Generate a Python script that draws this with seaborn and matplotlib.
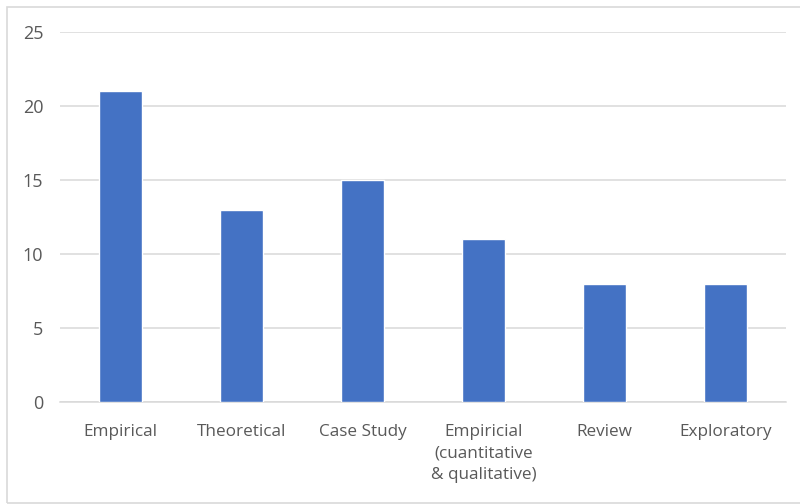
import matplotlib
matplotlib.use("Agg")
import matplotlib.pyplot as plt
import seaborn as sns
import pandas as pd
from matplotlib.patches import Rectangle

categories = ["Empirical", "Theoretical", "Case Study",
              "Empiricial\n(cuantitative\n& qualitative)", "Review", "Exploratory"]
counts = [21, 13, 15, 11, 8, 8]
y_ticks = [0, 5, 10, 15, 20, 25]

sns.set_theme(style="white")
plt.rcParams["font.family"] = ["Open Sans", "DejaVu Sans"]

df = pd.DataFrame({"category": categories, "count": counts})

fig = plt.figure(figsize=(8.0, 5.04), dpi=100)
ax = fig.add_axes([0.075, 0.2024, 0.9075, 0.7341])

sns.barplot(data=df, x="category", y="count", color="#4472C4",
            width=0.355, saturation=1, ax=ax, zorder=3)

ax.set_ylim(0, 25)
ax.set_yticks(y_ticks)
ax.set_xlim(-0.5, len(categories) - 0.5)
ax.set_xlabel("")
ax.set_ylabel("")
ax.yaxis.grid(True, color="#d9d9d9", linewidth=1.1, zorder=0)
ax.set_axisbelow(True)
for side in ["top", "right", "left"]:
    ax.spines[side].set_visible(False)
ax.spines["bottom"].set_color("#d9d9d9")
ax.spines["bottom"].set_linewidth(1.1)
ax.tick_params(axis="both", length=0, labelcolor="#595959")
ax.tick_params(axis="x", labelsize=12.3, pad=16)
ax.tick_params(axis="y", labelsize=13, pad=12)
for lbl in ax.get_xticklabels():
    lbl.set_linespacing(1.46)

# light chart-area frame
fig.patches.append(Rectangle((7 / 800, 1 / 504), 800 / 800, 496 / 504,
                             transform=fig.transFigure, fill=False,
                             edgecolor="#d9d9d9", linewidth=1.2))

fig.savefig("out.png", dpi=100, facecolor="white")
